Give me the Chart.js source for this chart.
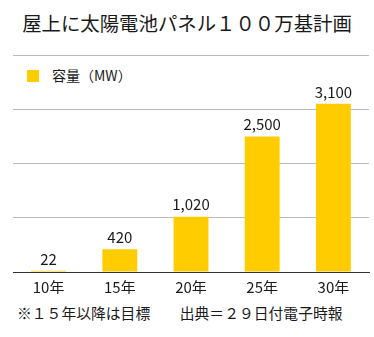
<!DOCTYPE html>
<html>
<head>
<meta charset="utf-8">
<script src="https://cdn.jsdelivr.net/npm/chart.js@4"></script>
<style>
  body { margin: 0; background: #fff; }
  #wrap { position: relative; width: 374px; height: 337px; font-family: "Noto Sans CJK JP", "Noto Sans", sans-serif; color: #1a1a1a; }
  #title { position: absolute; top: 8px; left: 0; width: 374px; text-align: center; font-size: 19.4px; line-height: 30px; }
  #legend { position: absolute; top: 65px; left: 27px; font-size: 14px; line-height: 20px; }
  #legend span.box { display: inline-block; width: 12px; height: 12px; background: #ffcc00; margin-right: 13px; vertical-align: -1px; }
  #note { position: absolute; top: 302px; left: 17px; font-size: 14.8px; line-height: 22px; white-space: nowrap; }
  canvas { position: absolute; top: 0; left: 0; z-index: 2; }
</style>
</head>
<body>
<div id="wrap">
  <div id="title">屋上に太陽電池パネル１００万基計画</div>
  <div id="legend"><span class="box"></span>容量（MW）</div>
  <div id="note">※１５年以降は目標　　出典＝２９日付電子時報</div>
  <canvas id="myChart" width="374" height="337"></canvas>
</div>
<script>
// data
const years = ['10年', '15年', '20年', '25年', '30年']
const capacity = [22, 420, 1020, 2500, 3100]
const yTicks = [0, 1000, 2000, 3000, 4000]

// value labels above the bars
const valueLabels = {
    id: 'valueLabels',
    afterDatasetsDraw(chart) {
        const ctx = chart.ctx
        ctx.save()
        ctx.font = '15px "Noto Sans CJK JP", sans-serif'
        ctx.fillStyle = '#1a1a1a'
        ctx.textAlign = 'center'
        ctx.textBaseline = 'middle'
        chart.getDatasetMeta(0).data.forEach((bar, i) => {
            ctx.fillText(capacity[i].toLocaleString('en-US'), bar.x, bar.y - 12)
        })
        ctx.restore()
    }
}

const ctx = document.getElementById('myChart').getContext('2d')

const myChart = new Chart(ctx, {
    type: 'bar',
    data: {
        labels: years,
        datasets: [{
            label: '容量（MW）',
            data: capacity,
            backgroundColor: '#ffcc00',
            barPercentage: 0.49,
            categoryPercentage: 1
        }]
    },
    options: {
        responsive: false,
        animation: false,
        layout: { padding: { top: 55, left: 13, right: 5, bottom: 43 } },
        plugins: {
            legend: { display: false },
            tooltip: { enabled: false }
        },
        scales: {
            x: {
                grid: { display: false },
                border: { color: '#333', width: 1 },
                ticks: {
                    color: '#1a1a1a',
                    padding: -2,
                    font: { size: 15, family: '"Noto Sans CJK JP", sans-serif' }
                }
            },
            y: {
                min: yTicks[0],
                max: yTicks[yTicks.length - 1],
                afterBuildTicks: axis => { axis.ticks = yTicks.map(v => ({ value: v })) },
                ticks: { display: false },
                grid: { color: '#bbb', drawTicks: false },
                border: { display: false }
            }
        }
    },
    plugins: [valueLabels]
})
</script>
</body>
</html>
